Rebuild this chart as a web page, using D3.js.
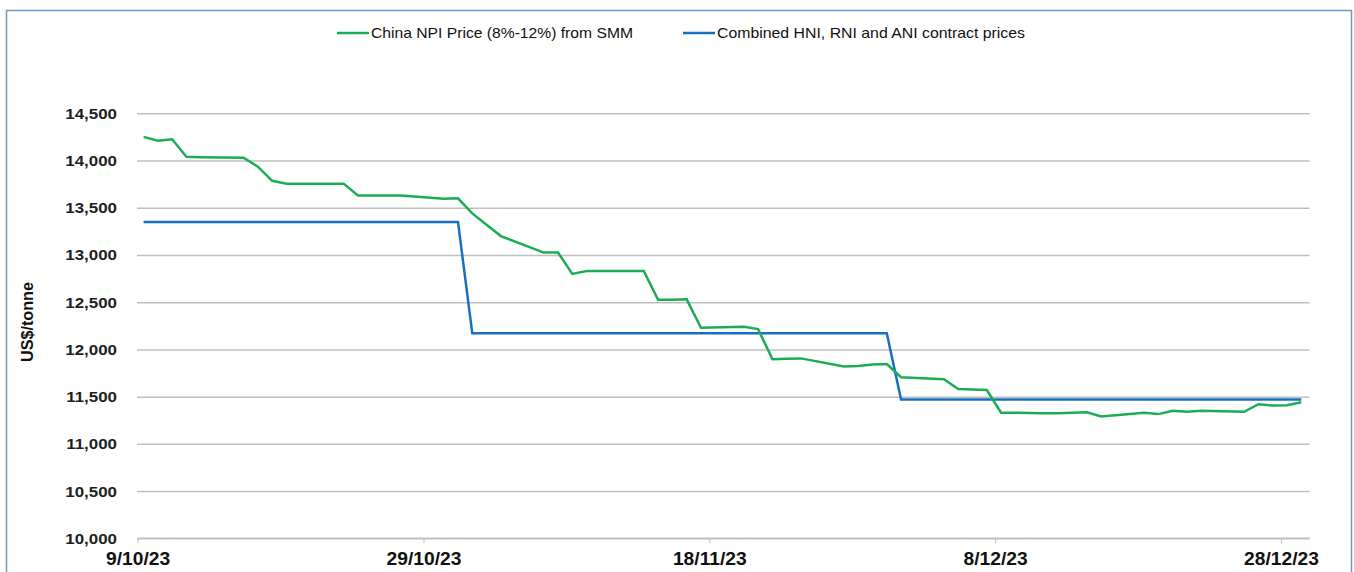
<!DOCTYPE html>
<html>
<head>
<meta charset="utf-8">
<script src="https://cdn.jsdelivr.net/npm/d3@7"></script>
<style>
  body { margin: 0; background: #fff; }
  svg { display: block; font-family: "Liberation Sans", Arial, sans-serif; }
  .wide { transform-box: fill-box; transform: scaleX(1.1); }
</style>
</head>
<body>
<div id="chart"></div>
<script>
/*************
Data
**************/
const npiDates = [
  "2023-10-09","2023-10-10","2023-10-11","2023-10-12","2023-10-13","2023-10-16","2023-10-17","2023-10-18",
  "2023-10-19","2023-10-20","2023-10-23","2023-10-24","2023-10-25","2023-10-26","2023-10-27","2023-10-30",
  "2023-10-31","2023-11-01","2023-11-02","2023-11-03","2023-11-06","2023-11-07","2023-11-08","2023-11-09",
  "2023-11-10","2023-11-13","2023-11-14","2023-11-15","2023-11-16","2023-11-17","2023-11-20","2023-11-21",
  "2023-11-22","2023-11-23","2023-11-24","2023-11-27","2023-11-28","2023-11-29","2023-11-30","2023-12-01",
  "2023-12-04","2023-12-05","2023-12-06","2023-12-07","2023-12-08","2023-12-11","2023-12-12","2023-12-13",
  "2023-12-14","2023-12-15","2023-12-18","2023-12-19","2023-12-20","2023-12-21","2023-12-22","2023-12-25",
  "2023-12-26","2023-12-27","2023-12-28","2023-12-29"
];
const npiValues = [
  14250, 14210, 14225, 14040, 14035, 14030, 13935, 13785,
  13755, 13755, 13755, 13630, 13630, 13630, 13630, 13595,
  13600, 13440, 13320, 13200, 13025, 13025, 12800, 12830,
  12830, 12830, 12525, 12525, 12530, 12230, 12240, 12215,
  11895, 11900, 11905, 11820, 11825, 11840, 11845, 11705,
  11685, 11580, 11575, 11570, 11330, 11325, 11325, 11330,
  11335, 11290, 11330, 11315, 11350, 11340, 11350, 11340,
  11420, 11405, 11410, 11440
];

const contractDates = ["2023-10-09","2023-10-31","2023-11-01","2023-11-30","2023-12-01","2023-12-29"];
const contractValues = [13350, 13350, 12170, 12170, 11470, 11470];

const seriesNames = ["China NPI Price (8%-12%) from SMM", "Combined HNI, RNI and ANI contract prices"];
const seriesColors = ["#1bad55", "#1670c0"];

const xTickDates = ["2023-10-09","2023-10-29","2023-11-18","2023-12-08","2023-12-28"];
const yTicks = [10000, 10500, 11000, 11500, 12000, 12500, 13000, 13500, 14000, 14500];

/*************
Params
**************/
const width = 1354, height = 572;
const parse = d3.timeParse("%Y-%m-%d");
const pointShift = 10 * 3600 * 1000; // points sit inside their day slot

const svg = d3.select("#chart").append("svg")
  .attr("width", width)
  .attr("height", height);

// frame
svg.append("path")
  .attr("d", "M6.5,575V10.5H1351.5V575")
  .attr("fill", "none")
  .attr("stroke", "#6f98bb")
  .attr("stroke-width", 1.5);

const x = d3.scaleTime()
  .domain([parse("2023-10-09"), parse("2023-12-30")])
  .range([137.6, 1309.6]);

const y = d3.scaleLinear()
  .domain([10000, 14500])
  .range([538.3, 113.3]);

// gridlines + y labels
const yAxis = svg.append("g")
  .attr("transform", "translate(137,0)")
  .call(d3.axisLeft(y).tickValues(yTicks).tickFormat(d3.format(",")).tickSize(-(1309.6 - 137)).tickPadding(20));
yAxis.select(".domain").remove();
yAxis.selectAll(".tick line").attr("stroke", "#bfbfbf").attr("stroke-width", 1.5);
yAxis.selectAll(".tick text")
  .attr("class", "wide")
  .attr("fill", "#1e1e1e")
  .style("transform-origin", "100% 50%")
  .style("font-size", "15.4px")
  .style("font-weight", "bold");

// x axis
const xAxis = svg.append("g")
  .attr("transform", "translate(0,538.3)")
  .call(d3.axisBottom(x).tickValues(xTickDates.map(parse)).tickFormat(d3.timeFormat("%-d/%-m/%y")).tickSize(5).tickPadding(9));
xAxis.select(".domain").attr("stroke", "#bfbfbf").attr("stroke-width", 1.5).attr("d", "M137.6,0H1309.6");
xAxis.selectAll(".tick line").attr("stroke", "#bfbfbf");
xAxis.selectAll(".tick text")
  .attr("class", "wide")
  .attr("fill", "#111")
  .style("transform-origin", "50% 50%")
  .style("font-size", "17.5px")
  .style("font-weight", "bold");

// y title
svg.append("text")
  .attr("transform", "translate(33,322) rotate(-90)")
  .attr("text-anchor", "middle")
  .attr("fill", "#111")
  .style("font-size", "16px")
  .style("font-weight", "bold")
  .attr("textLength", 80)
  .attr("lengthAdjust", "spacingAndGlyphs")
  .text("US$/tonne");

const line = d3.line()
  .x(d => x(new Date(d.date.getTime() + pointShift)))
  .y(d => y(d.value));

const npi = npiDates.map((d, i) => ({ date: parse(d), value: npiValues[i] }));
const contract = contractDates.map((d, i) => ({ date: parse(d), value: contractValues[i] }));

svg.append("path").datum(contract)
  .attr("fill", "none").attr("stroke", seriesColors[1]).attr("stroke-width", 2.5)
  .attr("d", line);
svg.append("path").datum(npi)
  .attr("fill", "none").attr("stroke", seriesColors[0]).attr("stroke-width", 2.5)
  .attr("d", line);

// legend
const legendX = [337, 683];
const legendW = [262, 308];
const legend = svg.selectAll(".legend")
  .data(seriesNames)
  .enter().append("g")
  .attr("transform", (_, i) => "translate(" + legendX[i] + ",33)");
legend.append("line")
  .attr("x1", 0).attr("x2", 32)
  .attr("stroke", (_, i) => seriesColors[i]).attr("stroke-width", 2.5);
legend.append("text")
  .attr("x", 34).attr("y", 5)
  .attr("fill", "#111")
  .style("font-size", "15px")
  .attr("textLength", (_, i) => legendW[i])
  .attr("lengthAdjust", "spacingAndGlyphs")
  .text(d => d);
</script>
</body>
</html>
